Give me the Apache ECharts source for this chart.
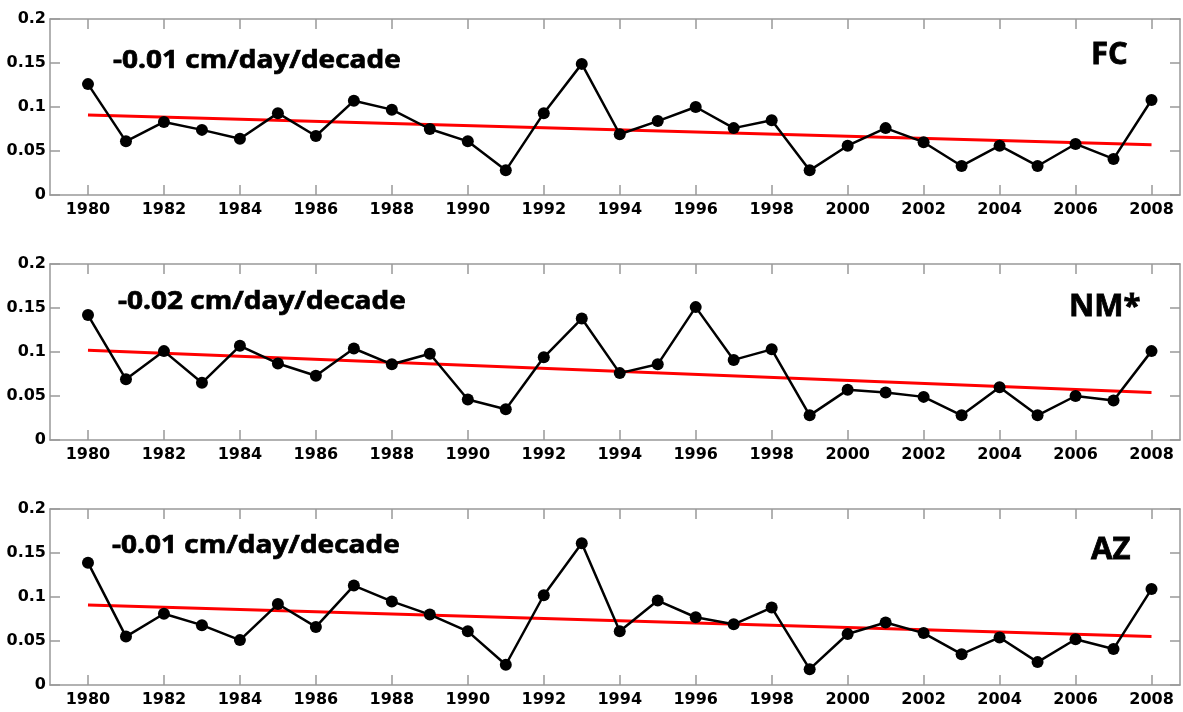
<!DOCTYPE html>
<html>
<head>
<meta charset="utf-8">
<script src="https://cdn.jsdelivr.net/npm/echarts@6/dist/echarts.min.js"></script>
<style>
  html, body { margin: 0; padding: 0; background: #fff; }
  #chart { width: 1183px; height: 712px; }
</style>
</head>
<body>
<div id="chart"></div>
<script>
// Annual series, 1980-2008
const years = [1980,1981,1982,1983,1984,1985,1986,1987,1988,1989,1990,1991,1992,1993,1994,
               1995,1996,1997,1998,1999,2000,2001,2002,2003,2004,2005,2006,2007,2008];

const fcValues = [0.126,0.061,0.083,0.074,0.064,0.093,0.067,0.107,0.097,0.075,0.061,0.028,0.093,0.149,0.069,
                  0.084,0.100,0.076,0.085,0.028,0.056,0.076,0.060,0.033,0.056,0.033,0.058,0.041,0.108];
const nmValues = [0.142,0.069,0.101,0.065,0.107,0.087,0.073,0.104,0.086,0.098,0.046,0.035,0.094,0.138,0.076,
                  0.086,0.151,0.091,0.103,0.028,0.057,0.054,0.049,0.028,0.060,0.028,0.050,0.045,0.101];
const azValues = [0.139,0.055,0.081,0.068,0.051,0.092,0.066,0.113,0.095,0.080,0.061,0.023,0.102,0.161,0.061,
                  0.096,0.077,0.069,0.088,0.018,0.058,0.071,0.059,0.035,0.054,0.026,0.052,0.041,0.109];

// Linear trend, value at first and last year
const trendYears = [1980, 2008];
const fcTrend = [0.091, 0.057];
const nmTrend = [0.102, 0.054];
const azTrend = [0.091, 0.055];

const panelNames = ['FC', 'NM*', 'AZ'];
const trendTexts = ['-0.01 cm/day/decade', '-0.02 cm/day/decade', '-0.01 cm/day/decade'];

// Tick labels
const yearTicks = [1980,1982,1984,1986,1988,1990,1992,1994,1996,1998,2000,2002,2004,2006,2008];
const valueTicks = [0, 0.05, 0.1, 0.15, 0.2];

const panels = [
  { values: fcValues, trend: fcTrend },
  { values: nmValues, trend: nmTrend },
  { values: azValues, trend: azTrend }
];

const gridTops = [19, 264, 509];
const gridHeight = 176;
const frameColor = '#999999';
const tickFont = { fontFamily: 'DejaVu Sans', fontWeight: 'bold', fontSize: 16, color: '#000' };

const grid = [], xAxis = [], yAxis = [], series = [];

panels.forEach((p, i) => {
  grid.push({ left: 50, right: 3, top: gridTops[i], height: gridHeight });

  const xBase = {
    type: 'value', gridIndex: i, min: 1979, max: 2008.75,
    splitLine: { show: false },
    axisLine: { show: true, onZero: false, lineStyle: { color: frameColor, width: 1.5 } },
    axisTick: { show: true, inside: true, length: 10, customValues: yearTicks,
                lineStyle: { color: frameColor, width: 1.5 } }
  };
  xAxis.push(Object.assign({}, xBase, {
    position: 'bottom',
    axisLabel: Object.assign({ show: true, margin: 7, customValues: yearTicks,
                               formatter: v => String(v) }, tickFont)
  }));
  xAxis.push(Object.assign({}, xBase, { position: 'top', axisLabel: { show: false } }));

  const yBase = {
    type: 'value', gridIndex: i, min: 0, max: 0.2,
    splitLine: { show: false },
    axisLine: { show: true, onZero: false, lineStyle: { color: frameColor, width: 1.5 } },
    axisTick: { show: true, inside: true, length: 10, customValues: valueTicks,
                lineStyle: { color: frameColor, width: 1.5 } }
  };
  yAxis.push(Object.assign({}, yBase, {
    position: 'left',
    axisLabel: Object.assign({ show: true, margin: 4, customValues: valueTicks,
                               formatter: v => String(v) }, tickFont)
  }));
  yAxis.push(Object.assign({}, yBase, { position: 'right', axisLabel: { show: false } }));

  series.push({
    type: 'line', xAxisIndex: 2 * i, yAxisIndex: 2 * i,
    data: trendYears.map((y, k) => [y, p.trend[k]]),
    showSymbol: false, symbol: 'none',
    lineStyle: { color: '#ff0000', width: 3 },
    z: 2, silent: true, animation: false
  });
  series.push({
    type: 'line', xAxisIndex: 2 * i, yAxisIndex: 2 * i,
    data: years.map((y, k) => [y, p.values[k]]),
    symbol: 'circle', symbolSize: 12, showAllSymbol: true,
    itemStyle: { color: '#000' },
    lineStyle: { color: '#000', width: 2.5 },
    z: 3, silent: true, animation: false
  });
});

// Panel annotations: trend rate and site name
const trendPos = [[113, 61], [118, 302], [112, 546]];
const namePos = [[1091, 55], [1069, 307], [1091, 550]];
const graphic = [];
panels.forEach((p, i) => {
  graphic.push({
    type: 'text', x: trendPos[i][0], y: trendPos[i][1], scaleX: 1.12, z: 10,
    style: { text: trendTexts[i], fill: '#000', stroke: '#000', lineWidth: 0.7,
             font: 'bold 25px "Open Sans"', textAlign: 'left', textVerticalAlign: 'middle' }
  });
  graphic.push({
    type: 'text', x: namePos[i][0], y: namePos[i][1], z: 10,
    style: { text: panelNames[i], fill: '#000', stroke: '#000', lineWidth: 0.8,
             font: 'bold 31px "Open Sans"', textAlign: 'left', textVerticalAlign: 'middle' }
  });
});

const chart = echarts.init(document.getElementById('chart'), null, { renderer: 'canvas' });
chart.setOption({
  animation: false,
  backgroundColor: '#fff',
  grid, xAxis, yAxis, series, graphic
});
</script>
</body>
</html>
